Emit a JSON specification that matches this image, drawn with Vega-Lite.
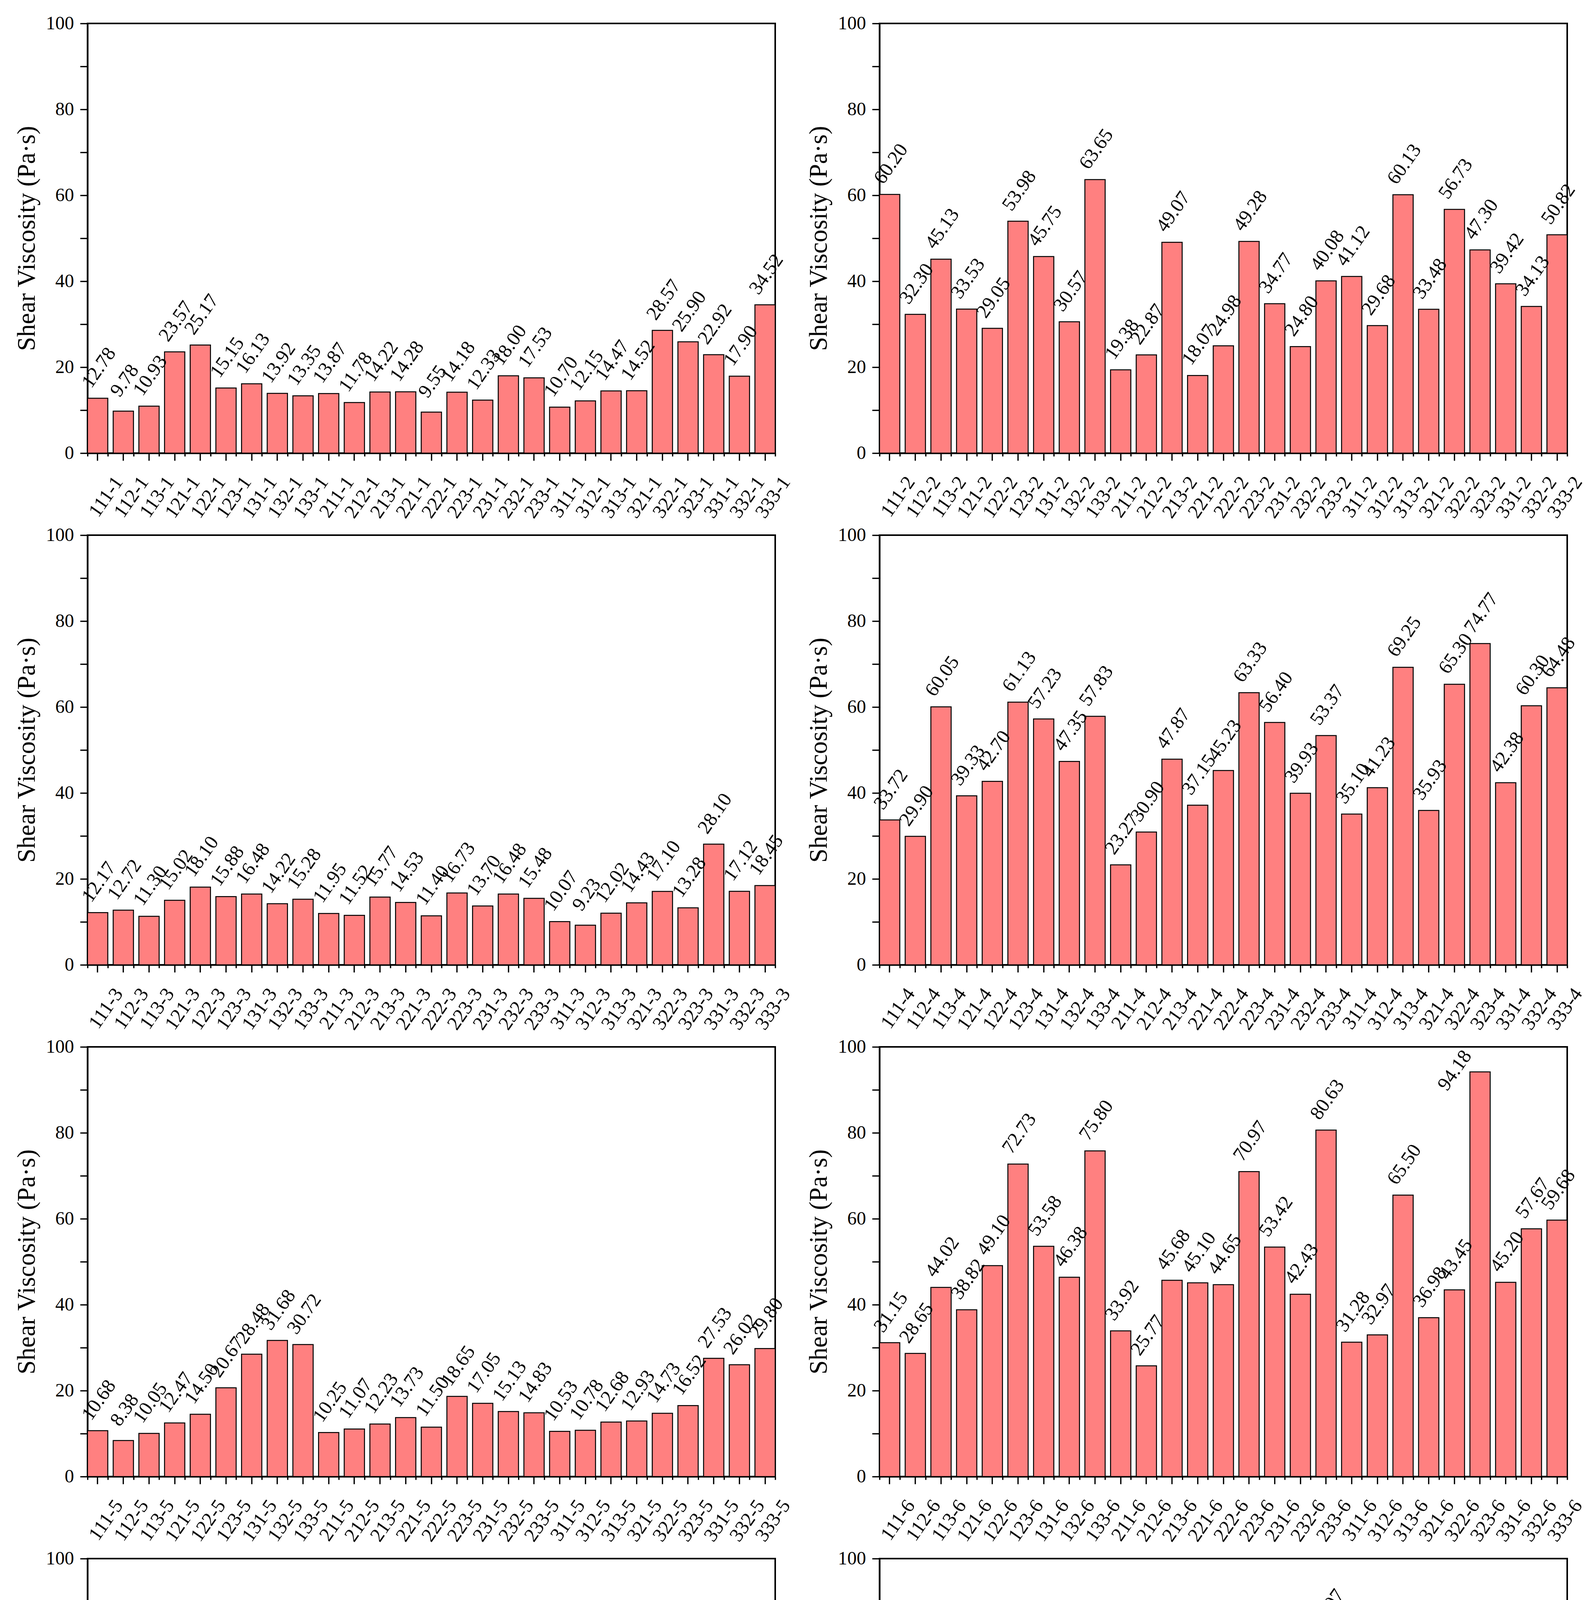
{
  "$schema": "https://vega.github.io/schema/vega-lite/v6.json",
  "autosize": {"type": "pad"},
  "padding": {"left": 34, "top": 34, "right": 0, "bottom": 0},
  "background": "white",
  "data": {"values": [
    {"panel":1,"sample":"111-1","viscosity":12.78},{"panel":1,"sample":"112-1","viscosity":9.78},{"panel":1,"sample":"113-1","viscosity":10.93},
    {"panel":1,"sample":"121-1","viscosity":23.57},{"panel":1,"sample":"122-1","viscosity":25.17},{"panel":1,"sample":"123-1","viscosity":15.15},
    {"panel":1,"sample":"131-1","viscosity":16.13},{"panel":1,"sample":"132-1","viscosity":13.92},{"panel":1,"sample":"133-1","viscosity":13.35},
    {"panel":1,"sample":"211-1","viscosity":13.87},{"panel":1,"sample":"212-1","viscosity":11.78},{"panel":1,"sample":"213-1","viscosity":14.22},
    {"panel":1,"sample":"221-1","viscosity":14.28},{"panel":1,"sample":"222-1","viscosity":9.55},{"panel":1,"sample":"223-1","viscosity":14.18},
    {"panel":1,"sample":"231-1","viscosity":12.33},{"panel":1,"sample":"232-1","viscosity":18.00},{"panel":1,"sample":"233-1","viscosity":17.53},
    {"panel":1,"sample":"311-1","viscosity":10.70},{"panel":1,"sample":"312-1","viscosity":12.15},{"panel":1,"sample":"313-1","viscosity":14.47},
    {"panel":1,"sample":"321-1","viscosity":14.52},{"panel":1,"sample":"322-1","viscosity":28.57},{"panel":1,"sample":"323-1","viscosity":25.90},
    {"panel":1,"sample":"331-1","viscosity":22.92},{"panel":1,"sample":"332-1","viscosity":17.90},{"panel":1,"sample":"333-1","viscosity":34.52},

    {"panel":2,"sample":"111-2","viscosity":60.20},{"panel":2,"sample":"112-2","viscosity":32.30},{"panel":2,"sample":"113-2","viscosity":45.13},
    {"panel":2,"sample":"121-2","viscosity":33.53},{"panel":2,"sample":"122-2","viscosity":29.05},{"panel":2,"sample":"123-2","viscosity":53.98},
    {"panel":2,"sample":"131-2","viscosity":45.75},{"panel":2,"sample":"132-2","viscosity":30.57},{"panel":2,"sample":"133-2","viscosity":63.65},
    {"panel":2,"sample":"211-2","viscosity":19.38},{"panel":2,"sample":"212-2","viscosity":22.87},{"panel":2,"sample":"213-2","viscosity":49.07},
    {"panel":2,"sample":"221-2","viscosity":18.07},{"panel":2,"sample":"222-2","viscosity":24.98},{"panel":2,"sample":"223-2","viscosity":49.28},
    {"panel":2,"sample":"231-2","viscosity":34.77},{"panel":2,"sample":"232-2","viscosity":24.80},{"panel":2,"sample":"233-2","viscosity":40.08},
    {"panel":2,"sample":"311-2","viscosity":41.12},{"panel":2,"sample":"312-2","viscosity":29.68},{"panel":2,"sample":"313-2","viscosity":60.13},
    {"panel":2,"sample":"321-2","viscosity":33.48},{"panel":2,"sample":"322-2","viscosity":56.73},{"panel":2,"sample":"323-2","viscosity":47.30},
    {"panel":2,"sample":"331-2","viscosity":39.42},{"panel":2,"sample":"332-2","viscosity":34.13},{"panel":2,"sample":"333-2","viscosity":50.82},

    {"panel":3,"sample":"111-3","viscosity":12.17},{"panel":3,"sample":"112-3","viscosity":12.72},{"panel":3,"sample":"113-3","viscosity":11.30},
    {"panel":3,"sample":"121-3","viscosity":15.02},{"panel":3,"sample":"122-3","viscosity":18.10},{"panel":3,"sample":"123-3","viscosity":15.88},
    {"panel":3,"sample":"131-3","viscosity":16.48},{"panel":3,"sample":"132-3","viscosity":14.22},{"panel":3,"sample":"133-3","viscosity":15.28},
    {"panel":3,"sample":"211-3","viscosity":11.95},{"panel":3,"sample":"212-3","viscosity":11.52},{"panel":3,"sample":"213-3","viscosity":15.77},
    {"panel":3,"sample":"221-3","viscosity":14.53},{"panel":3,"sample":"222-3","viscosity":11.40},{"panel":3,"sample":"223-3","viscosity":16.73},
    {"panel":3,"sample":"231-3","viscosity":13.70},{"panel":3,"sample":"232-3","viscosity":16.48},{"panel":3,"sample":"233-3","viscosity":15.48},
    {"panel":3,"sample":"311-3","viscosity":10.07},{"panel":3,"sample":"312-3","viscosity":9.23},{"panel":3,"sample":"313-3","viscosity":12.02},
    {"panel":3,"sample":"321-3","viscosity":14.43},{"panel":3,"sample":"322-3","viscosity":17.10},{"panel":3,"sample":"323-3","viscosity":13.28},
    {"panel":3,"sample":"331-3","viscosity":28.10},{"panel":3,"sample":"332-3","viscosity":17.12},{"panel":3,"sample":"333-3","viscosity":18.45},

    {"panel":4,"sample":"111-4","viscosity":33.72},{"panel":4,"sample":"112-4","viscosity":29.90},{"panel":4,"sample":"113-4","viscosity":60.05},
    {"panel":4,"sample":"121-4","viscosity":39.33},{"panel":4,"sample":"122-4","viscosity":42.70},{"panel":4,"sample":"123-4","viscosity":61.13},
    {"panel":4,"sample":"131-4","viscosity":57.23},{"panel":4,"sample":"132-4","viscosity":47.35},{"panel":4,"sample":"133-4","viscosity":57.83},
    {"panel":4,"sample":"211-4","viscosity":23.27},{"panel":4,"sample":"212-4","viscosity":30.90},{"panel":4,"sample":"213-4","viscosity":47.87},
    {"panel":4,"sample":"221-4","viscosity":37.15},{"panel":4,"sample":"222-4","viscosity":45.23},{"panel":4,"sample":"223-4","viscosity":63.33},
    {"panel":4,"sample":"231-4","viscosity":56.40},{"panel":4,"sample":"232-4","viscosity":39.93},{"panel":4,"sample":"233-4","viscosity":53.37},
    {"panel":4,"sample":"311-4","viscosity":35.10},{"panel":4,"sample":"312-4","viscosity":41.23},{"panel":4,"sample":"313-4","viscosity":69.25},
    {"panel":4,"sample":"321-4","viscosity":35.93},{"panel":4,"sample":"322-4","viscosity":65.30},{"panel":4,"sample":"323-4","viscosity":74.77},
    {"panel":4,"sample":"331-4","viscosity":42.38},{"panel":4,"sample":"332-4","viscosity":60.30},{"panel":4,"sample":"333-4","viscosity":64.48},

    {"panel":5,"sample":"111-5","viscosity":10.68},{"panel":5,"sample":"112-5","viscosity":8.38},{"panel":5,"sample":"113-5","viscosity":10.05},
    {"panel":5,"sample":"121-5","viscosity":12.47},{"panel":5,"sample":"122-5","viscosity":14.50},{"panel":5,"sample":"123-5","viscosity":20.67},
    {"panel":5,"sample":"131-5","viscosity":28.48},{"panel":5,"sample":"132-5","viscosity":31.68},{"panel":5,"sample":"133-5","viscosity":30.72},
    {"panel":5,"sample":"211-5","viscosity":10.25},{"panel":5,"sample":"212-5","viscosity":11.07},{"panel":5,"sample":"213-5","viscosity":12.23},
    {"panel":5,"sample":"221-5","viscosity":13.73},{"panel":5,"sample":"222-5","viscosity":11.50},{"panel":5,"sample":"223-5","viscosity":18.65},
    {"panel":5,"sample":"231-5","viscosity":17.05},{"panel":5,"sample":"232-5","viscosity":15.13},{"panel":5,"sample":"233-5","viscosity":14.83},
    {"panel":5,"sample":"311-5","viscosity":10.53},{"panel":5,"sample":"312-5","viscosity":10.78},{"panel":5,"sample":"313-5","viscosity":12.68},
    {"panel":5,"sample":"321-5","viscosity":12.93},{"panel":5,"sample":"322-5","viscosity":14.73},{"panel":5,"sample":"323-5","viscosity":16.52},
    {"panel":5,"sample":"331-5","viscosity":27.53},{"panel":5,"sample":"332-5","viscosity":26.02},{"panel":5,"sample":"333-5","viscosity":29.80},

    {"panel":6,"sample":"111-6","viscosity":31.15},{"panel":6,"sample":"112-6","viscosity":28.65},{"panel":6,"sample":"113-6","viscosity":44.02},
    {"panel":6,"sample":"121-6","viscosity":38.82},{"panel":6,"sample":"122-6","viscosity":49.10},{"panel":6,"sample":"123-6","viscosity":72.73},
    {"panel":6,"sample":"131-6","viscosity":53.58},{"panel":6,"sample":"132-6","viscosity":46.38},{"panel":6,"sample":"133-6","viscosity":75.80},
    {"panel":6,"sample":"211-6","viscosity":33.92},{"panel":6,"sample":"212-6","viscosity":25.77},{"panel":6,"sample":"213-6","viscosity":45.68},
    {"panel":6,"sample":"221-6","viscosity":45.10},{"panel":6,"sample":"222-6","viscosity":44.65},{"panel":6,"sample":"223-6","viscosity":70.97},
    {"panel":6,"sample":"231-6","viscosity":53.42},{"panel":6,"sample":"232-6","viscosity":42.43},{"panel":6,"sample":"233-6","viscosity":80.63},
    {"panel":6,"sample":"311-6","viscosity":31.28},{"panel":6,"sample":"312-6","viscosity":32.97},{"panel":6,"sample":"313-6","viscosity":65.50},
    {"panel":6,"sample":"321-6","viscosity":36.98},{"panel":6,"sample":"322-6","viscosity":43.45},{"panel":6,"sample":"323-6","viscosity":94.18},
    {"panel":6,"sample":"331-6","viscosity":45.20},{"panel":6,"sample":"332-6","viscosity":57.67},{"panel":6,"sample":"333-6","viscosity":59.68},

    {"panel":7,"sample":"111-7","viscosity":8.05},{"panel":7,"sample":"112-7","viscosity":7.95},{"panel":7,"sample":"113-7","viscosity":7.40},
    {"panel":7,"sample":"121-7","viscosity":11.77},{"panel":7,"sample":"122-7","viscosity":11.70},{"panel":7,"sample":"123-7","viscosity":11.58},
    {"panel":7,"sample":"131-7","viscosity":44.45},{"panel":7,"sample":"132-7","viscosity":16.12},{"panel":7,"sample":"133-7","viscosity":13.22},
    {"panel":7,"sample":"211-7","viscosity":7.65},{"panel":7,"sample":"212-7","viscosity":8.63},{"panel":7,"sample":"213-7","viscosity":8.42},
    {"panel":7,"sample":"221-7","viscosity":10.85},{"panel":7,"sample":"222-7","viscosity":11.45},{"panel":7,"sample":"223-7","viscosity":10.95},
    {"panel":7,"sample":"231-7","viscosity":31.25},{"panel":7,"sample":"232-7","viscosity":16.23},{"panel":7,"sample":"233-7","viscosity":18.08},
    {"panel":7,"sample":"311-7","viscosity":9.63},{"panel":7,"sample":"312-7","viscosity":6.18},{"panel":7,"sample":"313-7","viscosity":6.53},
    {"panel":7,"sample":"321-7","viscosity":11.58},{"panel":7,"sample":"322-7","viscosity":12.22},{"panel":7,"sample":"323-7","viscosity":10.72},
    {"panel":7,"sample":"331-7","viscosity":14.78},{"panel":7,"sample":"332-7","viscosity":16.23},{"panel":7,"sample":"333-7","viscosity":23.47},

    {"panel":8,"sample":"111-8","viscosity":33.70},{"panel":8,"sample":"112-8","viscosity":29.08},{"panel":8,"sample":"113-8","viscosity":51.95},
    {"panel":8,"sample":"121-8","viscosity":35.55},{"panel":8,"sample":"122-8","viscosity":44.02},{"panel":8,"sample":"123-8","viscosity":54.53},
    {"panel":8,"sample":"131-8","viscosity":22.25},{"panel":8,"sample":"132-8","viscosity":53.05},{"panel":8,"sample":"133-8","viscosity":74.23},
    {"panel":8,"sample":"211-8","viscosity":31.23},{"panel":8,"sample":"212-8","viscosity":24.97},{"panel":8,"sample":"213-8","viscosity":36.60},
    {"panel":8,"sample":"221-8","viscosity":37.40},{"panel":8,"sample":"222-8","viscosity":36.30},{"panel":8,"sample":"223-8","viscosity":61.95},
    {"panel":8,"sample":"231-8","viscosity":50.58},{"panel":8,"sample":"232-8","viscosity":51.83},{"panel":8,"sample":"233-8","viscosity":81.07},
    {"panel":8,"sample":"311-8","viscosity":23.96},{"panel":8,"sample":"312-8","viscosity":29.15},{"panel":8,"sample":"313-8","viscosity":40.18},
    {"panel":8,"sample":"321-8","viscosity":33.20},{"panel":8,"sample":"322-8","viscosity":33.12},{"panel":8,"sample":"323-8","viscosity":54.75},
    {"panel":8,"sample":"331-8","viscosity":39.35},{"panel":8,"sample":"332-8","viscosity":59.50},{"panel":8,"sample":"333-8","viscosity":67.82}
  ]},
  "columns": 2,
  "spacing": {"row": 210, "column": 267},
  "bounds": "flush",
  "concat": [
    {"width": 1760, "height": 1100, "transform": [{"filter": "datum.panel == 1"}], "resolve": {"axis": {"x": "independent"}}, "layer": [
      {"mark": {"type": "bar", "fill": "#FF8080", "stroke": "black", "strokeWidth": 2.5},
       "encoding": {"x": {"field": "sample", "type": "nominal", "scale": {"paddingInner": 0.21, "paddingOuter": 0}, "axis": {"orient": "bottom", "title": null}},
                    "y": {"field": "viscosity", "type": "quantitative", "scale": {"domain": [0, 100], "nice": false},
                          "axis": {"title": "Shear Viscosity (Pa·s)", "values": [0, 10, 20, 30, 40, 50, 60, 70, 80, 90, 100], "labelExpr": "datum.value % 20 === 0 ? datum.label : ''",
                                   "encode": {"ticks": {"update": {"x2": {"signal": "datum.value % 20 === 0 ? -19 : -9"}}}}}}}},
      {"mark": {"type": "text", "angle": -55, "align": "center", "baseline": "middle", "dx": {"expr": "datum.viscosity > 88 ? -34 : 66"}, "dy": {"expr": "datum.viscosity > 88 ? -55 : -42"}},
       "encoding": {"x": {"field": "sample", "type": "nominal", "axis": {"orient": "bottom", "title": null, "labels": false, "domain": false, "tickBand": "extent", "tickSize": 8}},
                    "y": {"field": "viscosity", "type": "quantitative"},
                    "text": {"field": "viscosity", "type": "quantitative", "format": ".2f"}}}
    ]},
    {"width": 1760, "height": 1100, "transform": [{"filter": "datum.panel == 2"}], "resolve": {"axis": {"x": "independent"}}, "layer": [
      {"mark": {"type": "bar", "fill": "#FF8080", "stroke": "black", "strokeWidth": 2.5},
       "encoding": {"x": {"field": "sample", "type": "nominal", "scale": {"paddingInner": 0.21, "paddingOuter": 0}, "axis": {"orient": "bottom", "title": null}},
                    "y": {"field": "viscosity", "type": "quantitative", "scale": {"domain": [0, 100], "nice": false},
                          "axis": {"title": "Shear Viscosity (Pa·s)", "values": [0, 10, 20, 30, 40, 50, 60, 70, 80, 90, 100], "labelExpr": "datum.value % 20 === 0 ? datum.label : ''",
                                   "encode": {"ticks": {"update": {"x2": {"signal": "datum.value % 20 === 0 ? -19 : -9"}}}}}}}},
      {"mark": {"type": "text", "angle": -55, "align": "center", "baseline": "middle", "dx": {"expr": "datum.viscosity > 88 ? -34 : 66"}, "dy": {"expr": "datum.viscosity > 88 ? -55 : -42"}},
       "encoding": {"x": {"field": "sample", "type": "nominal", "axis": {"orient": "bottom", "title": null, "labels": false, "domain": false, "tickBand": "extent", "tickSize": 8}},
                    "y": {"field": "viscosity", "type": "quantitative"},
                    "text": {"field": "viscosity", "type": "quantitative", "format": ".2f"}}}
    ]},
    {"width": 1760, "height": 1100, "transform": [{"filter": "datum.panel == 3"}], "resolve": {"axis": {"x": "independent"}}, "layer": [
      {"mark": {"type": "bar", "fill": "#FF8080", "stroke": "black", "strokeWidth": 2.5},
       "encoding": {"x": {"field": "sample", "type": "nominal", "scale": {"paddingInner": 0.21, "paddingOuter": 0}, "axis": {"orient": "bottom", "title": null}},
                    "y": {"field": "viscosity", "type": "quantitative", "scale": {"domain": [0, 100], "nice": false},
                          "axis": {"title": "Shear Viscosity (Pa·s)", "values": [0, 10, 20, 30, 40, 50, 60, 70, 80, 90, 100], "labelExpr": "datum.value % 20 === 0 ? datum.label : ''",
                                   "encode": {"ticks": {"update": {"x2": {"signal": "datum.value % 20 === 0 ? -19 : -9"}}}}}}}},
      {"mark": {"type": "text", "angle": -55, "align": "center", "baseline": "middle", "dx": {"expr": "datum.viscosity > 88 ? -34 : 66"}, "dy": {"expr": "datum.viscosity > 88 ? -55 : -42"}},
       "encoding": {"x": {"field": "sample", "type": "nominal", "axis": {"orient": "bottom", "title": null, "labels": false, "domain": false, "tickBand": "extent", "tickSize": 8}},
                    "y": {"field": "viscosity", "type": "quantitative"},
                    "text": {"field": "viscosity", "type": "quantitative", "format": ".2f"}}}
    ]},
    {"width": 1760, "height": 1100, "transform": [{"filter": "datum.panel == 4"}], "resolve": {"axis": {"x": "independent"}}, "layer": [
      {"mark": {"type": "bar", "fill": "#FF8080", "stroke": "black", "strokeWidth": 2.5},
       "encoding": {"x": {"field": "sample", "type": "nominal", "scale": {"paddingInner": 0.21, "paddingOuter": 0}, "axis": {"orient": "bottom", "title": null}},
                    "y": {"field": "viscosity", "type": "quantitative", "scale": {"domain": [0, 100], "nice": false},
                          "axis": {"title": "Shear Viscosity (Pa·s)", "values": [0, 10, 20, 30, 40, 50, 60, 70, 80, 90, 100], "labelExpr": "datum.value % 20 === 0 ? datum.label : ''",
                                   "encode": {"ticks": {"update": {"x2": {"signal": "datum.value % 20 === 0 ? -19 : -9"}}}}}}}},
      {"mark": {"type": "text", "angle": -55, "align": "center", "baseline": "middle", "dx": {"expr": "datum.viscosity > 88 ? -34 : 66"}, "dy": {"expr": "datum.viscosity > 88 ? -55 : -42"}},
       "encoding": {"x": {"field": "sample", "type": "nominal", "axis": {"orient": "bottom", "title": null, "labels": false, "domain": false, "tickBand": "extent", "tickSize": 8}},
                    "y": {"field": "viscosity", "type": "quantitative"},
                    "text": {"field": "viscosity", "type": "quantitative", "format": ".2f"}}}
    ]},
    {"width": 1760, "height": 1100, "transform": [{"filter": "datum.panel == 5"}], "resolve": {"axis": {"x": "independent"}}, "layer": [
      {"mark": {"type": "bar", "fill": "#FF8080", "stroke": "black", "strokeWidth": 2.5},
       "encoding": {"x": {"field": "sample", "type": "nominal", "scale": {"paddingInner": 0.21, "paddingOuter": 0}, "axis": {"orient": "bottom", "title": null}},
                    "y": {"field": "viscosity", "type": "quantitative", "scale": {"domain": [0, 100], "nice": false},
                          "axis": {"title": "Shear Viscosity (Pa·s)", "values": [0, 10, 20, 30, 40, 50, 60, 70, 80, 90, 100], "labelExpr": "datum.value % 20 === 0 ? datum.label : ''",
                                   "encode": {"ticks": {"update": {"x2": {"signal": "datum.value % 20 === 0 ? -19 : -9"}}}}}}}},
      {"mark": {"type": "text", "angle": -55, "align": "center", "baseline": "middle", "dx": {"expr": "datum.viscosity > 88 ? -34 : 66"}, "dy": {"expr": "datum.viscosity > 88 ? -55 : -42"}},
       "encoding": {"x": {"field": "sample", "type": "nominal", "axis": {"orient": "bottom", "title": null, "labels": false, "domain": false, "tickBand": "extent", "tickSize": 8}},
                    "y": {"field": "viscosity", "type": "quantitative"},
                    "text": {"field": "viscosity", "type": "quantitative", "format": ".2f"}}}
    ]},
    {"width": 1760, "height": 1100, "transform": [{"filter": "datum.panel == 6"}], "resolve": {"axis": {"x": "independent"}}, "layer": [
      {"mark": {"type": "bar", "fill": "#FF8080", "stroke": "black", "strokeWidth": 2.5},
       "encoding": {"x": {"field": "sample", "type": "nominal", "scale": {"paddingInner": 0.21, "paddingOuter": 0}, "axis": {"orient": "bottom", "title": null}},
                    "y": {"field": "viscosity", "type": "quantitative", "scale": {"domain": [0, 100], "nice": false},
                          "axis": {"title": "Shear Viscosity (Pa·s)", "values": [0, 10, 20, 30, 40, 50, 60, 70, 80, 90, 100], "labelExpr": "datum.value % 20 === 0 ? datum.label : ''",
                                   "encode": {"ticks": {"update": {"x2": {"signal": "datum.value % 20 === 0 ? -19 : -9"}}}}}}}},
      {"mark": {"type": "text", "angle": -55, "align": "center", "baseline": "middle", "dx": {"expr": "datum.viscosity > 88 ? -34 : 66"}, "dy": {"expr": "datum.viscosity > 88 ? -55 : -42"}},
       "encoding": {"x": {"field": "sample", "type": "nominal", "axis": {"orient": "bottom", "title": null, "labels": false, "domain": false, "tickBand": "extent", "tickSize": 8}},
                    "y": {"field": "viscosity", "type": "quantitative"},
                    "text": {"field": "viscosity", "type": "quantitative", "format": ".2f"}}}
    ]},
    {"width": 1760, "height": 1100, "transform": [{"filter": "datum.panel == 7"}], "resolve": {"axis": {"x": "independent"}}, "layer": [
      {"mark": {"type": "bar", "fill": "#FF8080", "stroke": "black", "strokeWidth": 2.5},
       "encoding": {"x": {"field": "sample", "type": "nominal", "scale": {"paddingInner": 0.21, "paddingOuter": 0}, "axis": {"orient": "bottom", "title": null}},
                    "y": {"field": "viscosity", "type": "quantitative", "scale": {"domain": [0, 100], "nice": false},
                          "axis": {"title": "Shear Viscosity (Pa·s)", "values": [0, 10, 20, 30, 40, 50, 60, 70, 80, 90, 100], "labelExpr": "datum.value % 20 === 0 ? datum.label : ''",
                                   "encode": {"ticks": {"update": {"x2": {"signal": "datum.value % 20 === 0 ? -19 : -9"}}}}}}}},
      {"mark": {"type": "text", "angle": -55, "align": "center", "baseline": "middle", "dx": {"expr": "datum.viscosity > 88 ? -34 : 66"}, "dy": {"expr": "datum.viscosity > 88 ? -55 : -42"}},
       "encoding": {"x": {"field": "sample", "type": "nominal", "axis": {"orient": "bottom", "title": null, "labels": false, "domain": false, "tickBand": "extent", "tickSize": 8}},
                    "y": {"field": "viscosity", "type": "quantitative"},
                    "text": {"field": "viscosity", "type": "quantitative", "format": ".2f"}}}
    ]},
    {"width": 1760, "height": 1100, "transform": [{"filter": "datum.panel == 8"}], "resolve": {"axis": {"x": "independent"}}, "layer": [
      {"mark": {"type": "bar", "fill": "#FF8080", "stroke": "black", "strokeWidth": 2.5},
       "encoding": {"x": {"field": "sample", "type": "nominal", "scale": {"paddingInner": 0.21, "paddingOuter": 0}, "axis": {"orient": "bottom", "title": null}},
                    "y": {"field": "viscosity", "type": "quantitative", "scale": {"domain": [0, 100], "nice": false},
                          "axis": {"title": "Shear Viscosity (Pa·s)", "values": [0, 10, 20, 30, 40, 50, 60, 70, 80, 90, 100], "labelExpr": "datum.value % 20 === 0 ? datum.label : ''",
                                   "encode": {"ticks": {"update": {"x2": {"signal": "datum.value % 20 === 0 ? -19 : -9"}}}}}}}},
      {"mark": {"type": "text", "angle": -55, "align": "center", "baseline": "middle", "dx": {"expr": "datum.viscosity > 88 ? -34 : 66"}, "dy": {"expr": "datum.viscosity > 88 ? -55 : -42"}},
       "encoding": {"x": {"field": "sample", "type": "nominal", "axis": {"orient": "bottom", "title": null, "labels": false, "domain": false, "tickBand": "extent", "tickSize": 8}},
                    "y": {"field": "viscosity", "type": "quantitative"},
                    "text": {"field": "viscosity", "type": "quantitative", "format": ".2f"}}}
    ]}
  ],
  "config": {
    "font": "Liberation Serif",
    "view": {"stroke": "black", "strokeWidth": 4},
    "text": {"font": "Liberation Serif", "fontSize": 50, "color": "black"},
    "axis": {
      "labelFont": "Liberation Serif", "titleFont": "Liberation Serif",
      "labelColor": "black", "titleColor": "black", "tickColor": "black", "domainColor": "black",
      "tickWidth": 3.3, "domainWidth": 4, "grid": false, "titleFontWeight": "normal"
    },
    "axisX": {
      "labelAngle": -55, "labelAlign": "right", "labelBaseline": "middle", "labelFontSize": 50,
      "labelOffset": 54, "labelPadding": 46, "labelOverlap": false, "labelBound": false, "labelFlush": false,
      "tickSize": 19
    },
    "axisY": {
      "titleFontSize": 65, "titlePadding": 15, "labelFontSize": 48, "labelPadding": 16, "tickSize": 19
    }
  }
}
